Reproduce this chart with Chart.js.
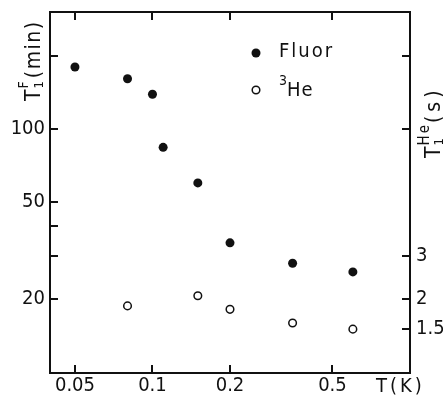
<!DOCTYPE html>
<html>
<head>
<meta charset="utf-8">
<script src="https://cdn.jsdelivr.net/npm/chart.js@4/dist/chart.umd.min.js"></script>
<style>
  body { margin: 0; background: #fff; }
  #wrap { width: 443px; height: 398px; }
</style>
</head>
<body>
<div id="wrap"><canvas id="relaxChart"></canvas></div>
<script>
// temperatures (K) and T1 values
const fluorTemps = [0.05, 0.08, 0.1, 0.11, 0.15, 0.2, 0.35, 0.6];
const fluorT1 = [180, 161, 139, 84, 60, 34, 28, 25.8];      // minutes
const heTemps = [0.08, 0.15, 0.2, 0.35, 0.6];
const heT1 = [1.87, 2.06, 1.81, 1.59, 1.50];               // seconds

const xTicks = [0.05, 0.1, 0.2, 0.5];
const leftTicks = [20, 30, 40, 50, 100, 200];
const leftLabels = [20, 50, 100];
const rightTicks = [1.5, 2, 3, 10, 20];
const rightLabels = [1.5, 2, 3];

const FONT = "'DejaVu Sans Condensed', 'DejaVu Sans', sans-serif";

function rich(ctx, parts) {
  // draws text pieces along the baseline, pieces with stack:true do not advance
  let x = 0;
  parts.forEach(function (p) {
    ctx.font = p.size + "px " + FONT;
    ctx.letterSpacing = (p.ls || 0) + "px";
    ctx.fillText(p.t, x, p.dy || 0);
    if (!p.stack) x += ctx.measureText(p.t).width;
  });
  ctx.letterSpacing = "0px";
}

function noPad(s) {
  s.paddingTop = 0;
  s.paddingBottom = 0;
  s.paddingLeft = 0;
  s.paddingRight = 0;
}

const framePlugin = {
  id: "frame",
  afterDatasetsDraw(chart) {
    const ctx = chart.ctx;
    const a = chart.chartArea;
    const tl = 8;
    ctx.save();
    ctx.strokeStyle = "#111";
    ctx.lineWidth = 2;
    ctx.strokeRect(a.left, a.top, a.right - a.left, a.bottom - a.top);

    // inward tick marks
    ctx.beginPath();
    chart.scales.x.ticks.forEach(function (t) {
      const px = Math.round(chart.scales.x.getPixelForValue(t.value));
      ctx.moveTo(px, a.bottom); ctx.lineTo(px, a.bottom - tl);
      ctx.moveTo(px, a.top); ctx.lineTo(px, a.top + tl);
    });
    chart.scales.y.ticks.forEach(function (t) {
      const py = Math.round(chart.scales.y.getPixelForValue(t.value));
      ctx.moveTo(a.left, py); ctx.lineTo(a.left + tl, py);
    });
    chart.scales.y2.ticks.forEach(function (t) {
      const py = Math.round(chart.scales.y2.getPixelForValue(t.value));
      ctx.moveTo(a.right, py); ctx.lineTo(a.right - tl, py);
    });
    ctx.stroke();

    ctx.fillStyle = "#111";
    ctx.textBaseline = "alphabetic";
    ctx.textAlign = "left";

    // legend
    ctx.beginPath();
    ctx.arc(256, 53, 4.5, 0, Math.PI * 2);
    ctx.fill();
    ctx.beginPath();
    ctx.lineWidth = 1.5;
    ctx.arc(256, 90, 3.8, 0, Math.PI * 2);
    ctx.stroke();
    ctx.save();
    ctx.translate(279, 57);
    rich(ctx, [{ t: "Fluor", size: 20, ls: 2 }]);
    ctx.restore();
    ctx.save();
    ctx.translate(279, 96);
    rich(ctx, [{ t: "3", size: 14, dy: -11 }, { t: "He", size: 20, ls: 1 }]);
    ctx.restore();

    // x axis title
    ctx.save();
    ctx.translate(376, 392);
    rich(ctx, [{ t: "T(K)", size: 20, ls: 3 }]);
    ctx.restore();

    // left axis title
    ctx.save();
    ctx.translate(40, 101);
    ctx.rotate(-Math.PI / 2);
    rich(ctx, [
      { t: "T", size: 21, ls: 1 },
      { t: "1", size: 13, dy: 3, stack: true },
      { t: "F", size: 14, dy: -12, ls: 3 },
      { t: "(min)", size: 21, ls: 1.5 }
    ]);
    ctx.restore();

    // right axis title
    ctx.save();
    ctx.translate(440, 158);
    ctx.rotate(-Math.PI / 2);
    rich(ctx, [
      { t: "T", size: 21, ls: 1 },
      { t: "1", size: 13, dy: 3, stack: true },
      { t: "He", size: 15, dy: -11, ls: 2 },
      { t: "(s)", size: 21, ls: 4 }
    ]);
    ctx.restore();
    ctx.restore();
  }
};

new Chart(document.getElementById("relaxChart"), {
  type: "scatter",
  data: {
    datasets: [
      {
        label: "Fluor",
        data: fluorTemps.map(function (t, i) { return { x: t, y: fluorT1[i] }; }),
        yAxisID: "y",
        pointRadius: 4.5,
        pointBackgroundColor: "#111",
        pointBorderWidth: 0
      },
      {
        label: "3He",
        data: heTemps.map(function (t, i) { return { x: t, y: heT1[i] }; }),
        yAxisID: "y2",
        pointRadius: 3.8,
        pointBackgroundColor: "#fff",
        pointBorderColor: "#111",
        pointBorderWidth: 1.5
      }
    ]
  },
  options: {
    responsive: true,
    maintainAspectRatio: false,
    animation: false,
    layout: { padding: { top: 12, left: 0, right: 0, bottom: 0 } },
    plugins: { legend: { display: false }, tooltip: { enabled: false } },
    scales: {
      x: {
        type: "logarithmic",
        min: 0.04,
        max: 1.0,
        grid: { display: false, drawTicks: false },
        border: { display: false },
        afterBuildTicks: function (s) { s.ticks = xTicks.map(function (v) { return { value: v }; }); },
        afterFit: function (s) { s.height = 25; noPad(s); },
        ticks: {
          color: "#111",
          padding: 1,
          maxRotation: 0,
          autoSkip: false,
          font: { family: FONT, size: 20 },
          callback: function (v) { return String(v); }
        }
      },
      y: {
        type: "logarithmic",
        position: "left",
        min: 9.9,
        max: 303,
        grid: { display: false, drawTicks: false },
        border: { display: false },
        afterBuildTicks: function (s) { s.ticks = leftTicks.map(function (v) { return { value: v }; }); },
        afterFit: function (s) { s.width = 50; noPad(s); },
        ticks: {
          color: "#111",
          padding: 5,
          autoSkip: false,
          font: { family: FONT, size: 20 },
          callback: function (v) { return leftLabels.indexOf(v) >= 0 ? String(v) : ""; }
        }
      },
      y2: {
        type: "logarithmic",
        position: "right",
        min: 0.99,
        max: 30.3,
        grid: { display: false, drawTicks: false },
        border: { display: false },
        afterBuildTicks: function (s) { s.ticks = rightTicks.map(function (v) { return { value: v }; }); },
        afterFit: function (s) { s.width = 33; noPad(s); },
        ticks: {
          color: "#111",
          padding: 6,
          autoSkip: false,
          font: { family: FONT, size: 20 },
          callback: function (v) { return rightLabels.indexOf(v) >= 0 ? String(v) : ""; }
        }
      }
    }
  },
  plugins: [framePlugin]
});
</script>
</body>
</html>
